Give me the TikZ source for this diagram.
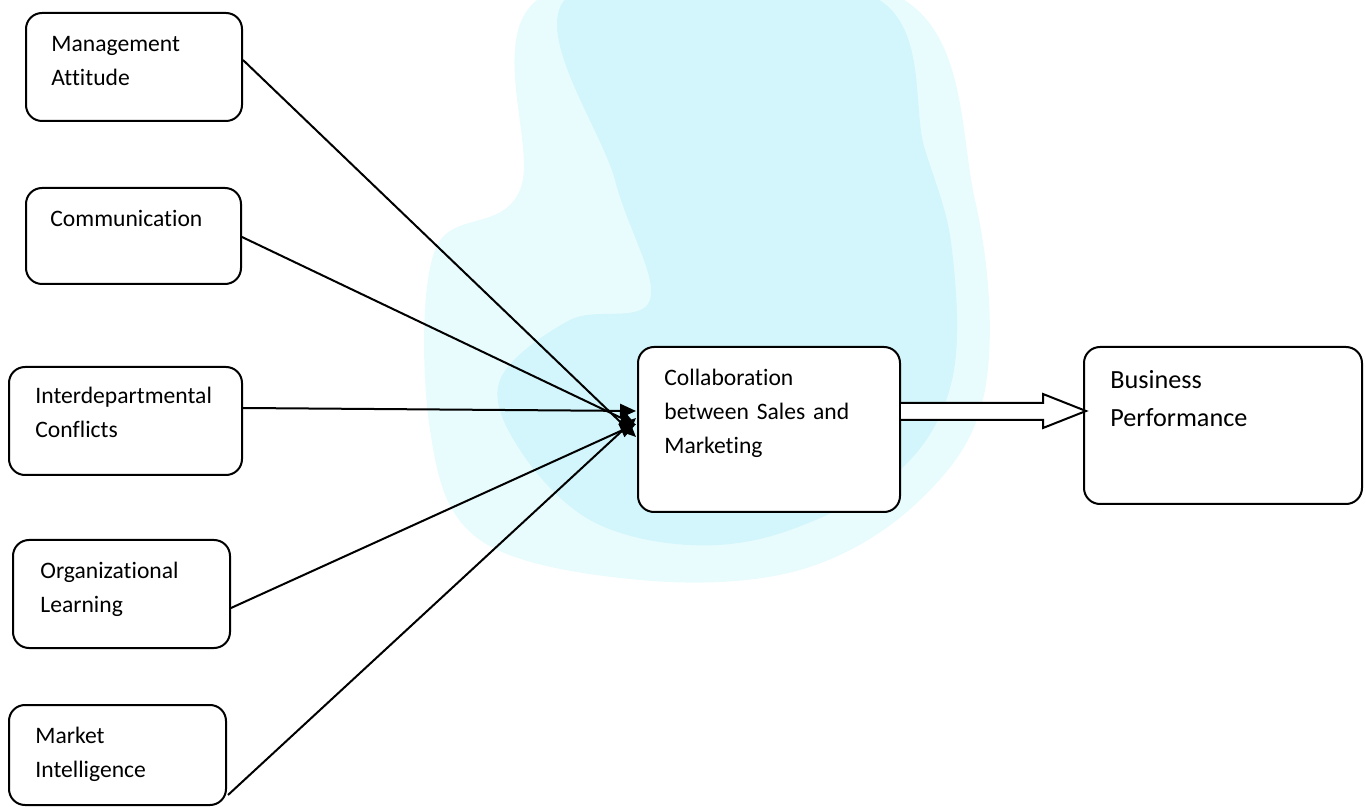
\documentclass[tikz,border=0pt]{standalone}
\usepackage{fontspec}
\setmainfont[RawFeature={-liga;-clig;-dlig;-calt}]{Carlito}
\usetikzlibrary{arrows.meta,calc}
\definecolor{wmpale}{RGB}{232,251,253}
\definecolor{wmcyan}{RGB}{210,246,251}
\tikzset{
  box/.style={draw=black, line width=1pt, rounded corners=8pt, fill=white, inner sep=0pt},
  lbl/.style={anchor=base west, inner sep=0pt, text width=200pt, align=left,
              font=\fontsize{11.8}{17}\selectfont},
  biglbl/.style={anchor=base west, inner sep=0pt, text width=200pt, align=left,
              font=\fontsize{13.1}{19}\selectfont},
  conn/.style={draw=black, line width=1pt, -{Triangle[length=8pt,width=7pt]}},
  blockarrow/.style={draw=black, line width=1pt, fill=white, line join=miter}
}
\begin{document}
\begin{tikzpicture}[x=0.5pt,y=-0.5pt]
\useasboundingbox (0,0) rectangle (1366,807);
% faint watermark background
\fill[wmpale] plot[smooth cycle, tension=0.6] coordinates {(545,-5) (895,-5) (975,200) (985,390) (920,500) (800,570) (640,580) (480,540) (430,430) (435,250) (520,190)};
\fill[wmcyan] plot[smooth cycle, tension=0.6] coordinates {(570,-5) (870,-5) (925,150) (952,250) (952,380) (900,470) (790,530) (690,545) (590,520) (520,450) (500,380) (570,320) (650,300) (615,180)};

% boxes
\node[box, minimum width=108pt, minimum height=54pt] (A) at (134,67) {};
\node[box, minimum width=107.5pt, minimum height=48pt] (B) at (133.5,236) {};
\node[box, minimum width=116.5pt, minimum height=54pt] (C) at (125.5,421) {};
\node[box, minimum width=108.5pt, minimum height=54pt] (D) at (121.5,594) {};
\node[box, minimum width=108.5pt, minimum height=50pt] (E) at (117.5,755) {};
\node[box, minimum width=131pt, minimum height=82.5pt] (F) at (769,429.5) {};
\node[box, minimum width=139pt, minimum height=78.5pt] (G) at (1223,425.5) {};

% labels
\node[lbl] (At) at (51,52) {Management\\Attitude};
\node[lbl] (Bt) at (50,227) {Communication};
\node[lbl] (Ct) at (35,404) {Interdepartmental\\Conflicts};
\node[lbl] (Dt) at (40,579) {Organizational\\Learning};
\node[lbl] (Et) at (35,743) {Market\\Intelligence};
\node[lbl] (Ft) at (664,386) {Collaboration\\between Sales and\\Marketing};
\node[biglbl] (Gt) at (1110,389) {Business\\Performance};

% connectors
\draw[conn] ($(A.east)+(0,-7)$) -- ($(F.west)+(-1,7.5)$);
\draw[conn] ($(B.east)+(0,1)$) -- ($(F.west)+(-1,-4.5)$);
\draw[conn] ($(C.east)+(0,-13)$) -- ($(F.west)+(-1,-18.5)$);
\draw[conn] ($(D.east)+(0,14)$) -- ($(F.west)+(-1,-5.5)$);
\draw[conn] ($(E.east)+(1,40)$) -- ($(F.west)+(-1,-11.5)$);

% block arrow
\draw[blockarrow] ($(F.east)+(0,-26.5)$) -- ($(F.east)+(142,-26.5)$) -- ($(F.east)+(142,-35.5)$)
  -- ($(G.west)+(3,-14.5)$) -- ($(F.east)+(142,-1.5)$) -- ($(F.east)+(142,-9.5)$) -- ($(F.east)+(0,-9.5)$);
\end{tikzpicture}
\end{document}
